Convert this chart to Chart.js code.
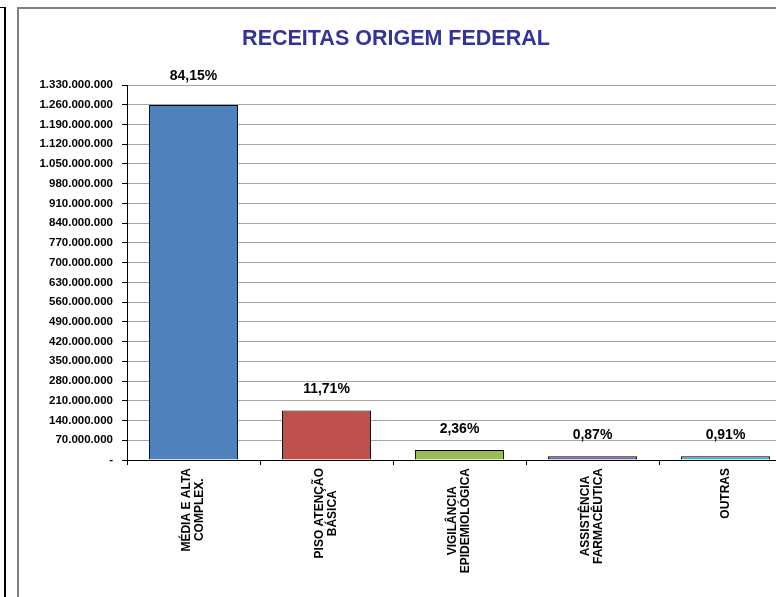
<!DOCTYPE html>
<html>
<head>
    <title>Receitas Origem Federal</title>
    <script src="https://cdn.jsdelivr.net/npm/chart.js"></script>
    <style>
        body { margin: 0; width: 776px; height: 597px; overflow: hidden; background: #fff; position: relative; }
        #edge { position: absolute; left: -10px; top: 7px; width: 14px; height: 700px; border-top: 1px solid #000; border-right: 2px solid #000; }
        #frame { position: absolute; left: 17px; top: 7px; width: 900px; height: 700px; border-top: 2px solid #808080; border-left: 2px solid #808080; }
        #chart { position: absolute; left: 20px; top: 10px; }
    </style>
</head>
<body>
    <div id="edge"></div>
    <div id="frame"></div>
    <canvas id="chart" width="780" height="587"></canvas>
<script>
    // data
    var title = 'RECEITAS ORIGEM FEDERAL';
    var categories = [
        ['MÉDIA E ALTA', 'COMPLEX.'],
        ['PISO ATENÇÃO', 'BÁSICA'],
        ['VIGILÂNCIA', 'EPIDEMIOLÓGICA'],
        ['ASSISTÊNCIA', 'FARMACÊUTICA'],
        ['OUTRAS']
    ];
    var values = [1259000000, 175200000, 35300000, 13000000, 13600000];
    var percentLabels = ['84,15%', '11,71%', '2,36%', '0,87%', '0,91%'];
    var barColors = ['#4f81bd', '#c0504d', '#9bbb59', '#8064a2', '#4bacc6'];
    var yMax = 1330000000;
    var yStep = 70000000;

    var font = '"Liberation Sans", Arial, sans-serif';

    function fmt(v) {
        if (v === 0) return '-';
        return String(Math.round(v)).replace(/\B(?=(\d{3})+(?!\d))/g, '.');
    }

    var textPlugin = {
        id: 'texts',
        afterDraw: function (chart) {
            var ctx = chart.ctx, area = chart.chartArea;
            var meta = chart.getDatasetMeta(0);
            var xs = chart.scales.x;
            ctx.save();
            ctx.fillStyle = '#000';
            ctx.textAlign = 'center';
            ctx.textBaseline = 'middle';

            // percentages above bars (pushed above the plot when the bar is near the top)
            ctx.font = 'bold 14px ' + font;
            meta.data.forEach(function (bar, i) {
                var y = bar.y - 21;
                if (y < area.top + 10) y = area.top - 9;
                ctx.fillText(percentLabels[i], bar.x, y);
            });

            // rotated category labels, lines centred on each other
            ctx.font = 'bold 12px ' + font;
            categories.forEach(function (lines, i) {
                var x = xs.getPixelForValue(i);
                var maxW = Math.max.apply(null, lines.map(function (l) { return ctx.measureText(l).width; }));
                ctx.save();
                ctx.translate(x, area.bottom + 8);
                ctx.rotate(-Math.PI / 2);
                lines.forEach(function (l, j) {
                    ctx.fillText(l, -maxW / 2, (j - (lines.length - 1) / 2) * 13);
                });
                ctx.restore();
            });

            // title
            ctx.font = 'bold 21.5px ' + font;
            ctx.fillStyle = '#333399';
            ctx.fillText(title, 376, 29);
            ctx.restore();
        }
    };

    var ctx = document.getElementById('chart').getContext('2d');
    var chart = new Chart(ctx, {
        type: 'bar',
        data: {
            labels: categories.map(function (c) { return c.join(' '); }),
            datasets: [{
                data: values,
                backgroundColor: barColors,
                borderColor: '#000',
                borderWidth: 1,
                categoryPercentage: 1,
                barPercentage: 0.67
            }]
        },
        options: {
            responsive: false,
            animation: false,
            layout: { padding: { top: 75, right: 8, bottom: 0, left: 0 } },
            plugins: {
                legend: { display: false },
                tooltip: { enabled: false }
            },
            scales: {
                x: {
                    grid: { drawOnChartArea: false, tickLength: 5, tickColor: '#000' },
                    border: { color: '#000', width: 1 },
                    ticks: { display: false },
                    afterFit: function (s) { s.height = 137; }
                },
                y: {
                    min: 0,
                    max: yMax,
                    grid: { color: '#a6a6a6', tickColor: '#000', tickLength: 5 },
                    border: { color: '#000', width: 1 },
                    ticks: {
                        stepSize: yStep,
                        padding: 9,
                        color: '#000',
                        font: { family: font, size: 11.5, weight: 'bold' },
                        callback: function (v) { return fmt(v); }
                    },
                    afterFit: function (s) { s.width = 107; }
                }
            }
        },
        plugins: [textPlugin]
    });
</script>
</body>
</html>
